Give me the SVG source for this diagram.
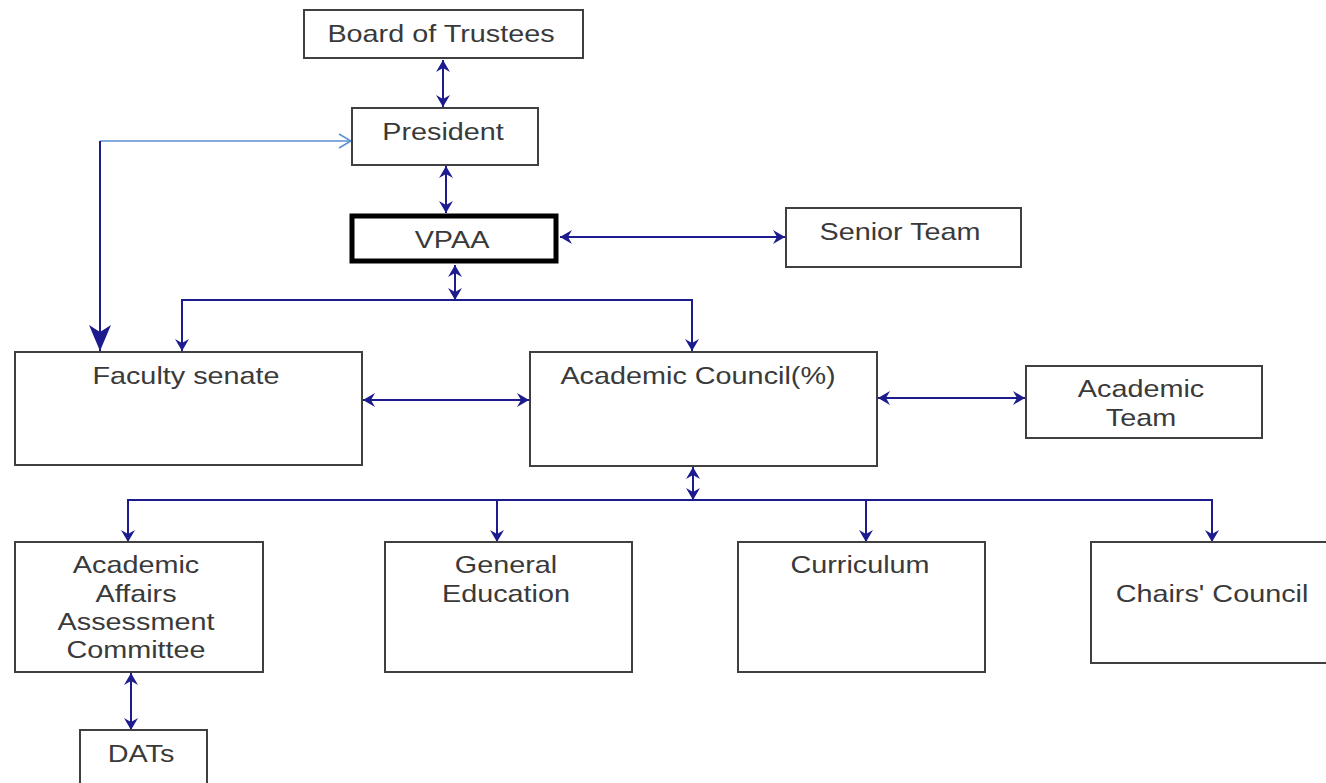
<svg xmlns="http://www.w3.org/2000/svg" width="1326" height="783" viewBox="0 0 1326 783">
<defs>
<style>
.box{fill:#fff;stroke:#404040;stroke-width:2}
.thick{fill:#fff;stroke:#000;stroke-width:5}
.t{font-family:"Liberation Sans",Arial,sans-serif;font-size:24px;fill:#3a3a3a;text-anchor:middle}
.c{fill:none;stroke:#1c1c8e;stroke-width:2}
.lb{fill:none;stroke:#5a8fd2;stroke-width:1.5}
</style>
<marker id="a" viewBox="0 0 12 14" refX="12" refY="7" markerWidth="12" markerHeight="14" markerUnits="userSpaceOnUse" orient="auto-start-reverse">
<path d="M0,0 L12,7 L0,14 L4,7 z" fill="#1c1c8e"/>
</marker>
<marker id="big" viewBox="0 0 26 22" refX="26" refY="11" markerWidth="26" markerHeight="22" markerUnits="userSpaceOnUse" orient="auto">
<path d="M0,0 L26,11 L0,22 L7,11 z" fill="#1c1c8e"/>
</marker>
<marker id="open" viewBox="0 0 14 16" refX="13" refY="8" markerWidth="14" markerHeight="16" markerUnits="userSpaceOnUse" orient="auto">
<path d="M1,1 L13,8 L1,15" fill="none" stroke="#5a8fd2" stroke-width="1.5"/>
</marker>
</defs>
<rect width="1326" height="783" fill="#fff"/>
<g id="connectors">
<line class="c" x1="443" y1="60" x2="443" y2="107" marker-start="url(#a)" marker-end="url(#a)"/>
<line class="c" x1="446" y1="166" x2="446" y2="213" marker-start="url(#a)" marker-end="url(#a)"/>
<line class="lb" x1="100" y1="141" x2="351" y2="141" marker-end="url(#open)"/>
<line class="c" x1="100" y1="141" x2="100" y2="351" marker-end="url(#big)"/>
<line class="c" x1="560" y1="237" x2="785" y2="237" marker-start="url(#a)" marker-end="url(#a)"/>
<line class="c" x1="455" y1="265" x2="455" y2="300" marker-start="url(#a)" marker-end="url(#a)"/>
<polyline class="c" points="182,351 182,300 692,300 692,351" marker-start="url(#a)" marker-end="url(#a)"/>
<line class="c" x1="363" y1="400" x2="529" y2="400" marker-start="url(#a)" marker-end="url(#a)"/>
<line class="c" x1="878" y1="398" x2="1025" y2="398" marker-start="url(#a)" marker-end="url(#a)"/>
<line class="c" x1="693" y1="467" x2="693" y2="500" marker-start="url(#a)" marker-end="url(#a)"/>
<polyline class="c" points="128,542 128,500 1212,500 1212,542" marker-start="url(#a)" marker-end="url(#a)"/>
<line class="c" x1="497" y1="500" x2="497" y2="542" marker-end="url(#a)"/>
<line class="c" x1="866" y1="500" x2="866" y2="542" marker-end="url(#a)"/>
<line class="c" x1="131" y1="673" x2="131" y2="730" marker-start="url(#a)" marker-end="url(#a)"/>
</g>
<g id="board"><rect class="box" x="304" y="10" width="279" height="48"/><text class="t" transform="translate(441,42) scale(1.2,1)">Board of Trustees</text></g>
<g id="president"><rect class="box" x="352" y="108" width="186" height="57"/><text class="t" transform="translate(443,140) scale(1.2,1)">President</text></g>
<g id="vpaa"><rect class="thick" x="352" y="216" width="204" height="45"/><text class="t" transform="translate(452,248) scale(1.2,1)">VPAA</text></g>
<g id="senior"><rect class="box" x="786" y="208" width="235" height="59"/><text class="t" transform="translate(900,240) scale(1.2,1)">Senior Team</text></g>
<g id="senate"><rect class="box" x="15" y="352" width="347" height="113"/><text class="t" transform="translate(186,384) scale(1.2,1)">Faculty senate</text></g>
<g id="council"><rect class="box" x="530" y="352" width="347" height="114"/><text class="t" transform="translate(698,384) scale(1.2,1)">Academic Council(%)</text></g>
<g id="acteam"><rect class="box" x="1026" y="366" width="236" height="72"/><text class="t" transform="translate(1141,397) scale(1.2,1)">Academic</text><text class="t" transform="translate(1141,426) scale(1.2,1)">Team</text></g>
<g id="aaac"><rect class="box" x="15" y="542" width="248" height="130"/>
<text class="t" transform="translate(136,573) scale(1.2,1)">Academic</text>
<text class="t" transform="translate(136,602) scale(1.2,1)">Affairs</text>
<text class="t" transform="translate(136,630) scale(1.2,1)">Assessment</text>
<text class="t" transform="translate(136,658) scale(1.2,1)">Committee</text></g>
<g id="gened"><rect class="box" x="385" y="542" width="247" height="130"/>
<text class="t" transform="translate(506,573) scale(1.2,1)">General</text>
<text class="t" transform="translate(506,602) scale(1.2,1)">Education</text></g>
<g id="curriculum"><rect class="box" x="738" y="542" width="247" height="130"/><text class="t" transform="translate(860,573) scale(1.2,1)">Curriculum</text></g>
<g id="chairs"><rect class="box" x="1091" y="542" width="245" height="121"/><text class="t" transform="translate(1212,602) scale(1.2,1)">Chairs' Council</text></g>
<g id="dats"><rect class="box" x="80" y="730" width="127" height="60"/><text class="t" transform="translate(141,762) scale(1.2,1)">DATs</text></g>
</svg>
